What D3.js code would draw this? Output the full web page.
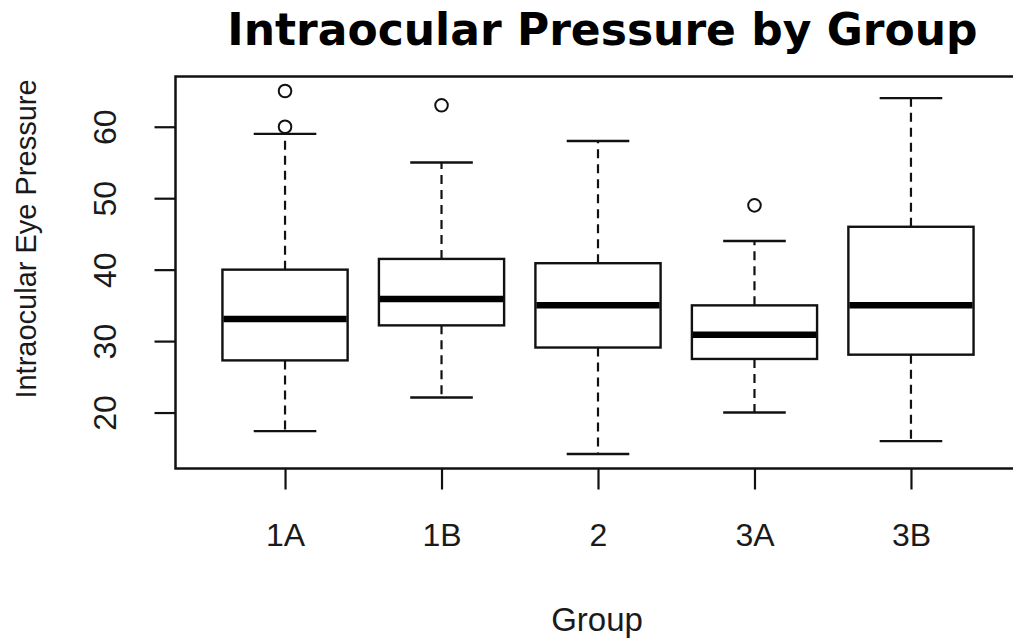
<!DOCTYPE html>
<html>
<head>
<meta charset="utf-8">
<script src="https://cdn.jsdelivr.net/npm/d3@7"></script>
<style>
  body { margin: 0; background: #fff; }
  svg { display: block; }
</style>
</head>
<body>
<div id="chart"></div>
<script>
// box plot of intraocular pressure for each group
const groups = ["1A", "1B", "2", "3A", "3B"];
const lowerWhisker = [17.4, 22.1, 14.2, 20.0, 16.0];
const q1 = [27.3, 32.2, 29.1, 27.5, 28.1];
const median = [33.1, 35.9, 35.0, 30.9, 35.0];
const q3 = [40.0, 41.5, 40.9, 35.0, 46.0];
const upperWhisker = [59.0, 55.0, 58.0, 44.0, 64.0];
const outliers = [[60, 65], [63], [], [49], []];
const yTicks = [20, 30, 40, 50, 60];

const width = 1013,
    height = 642;

const plot = { left: 175.5, right: 1020.5, top: 76.5, bottom: 468.5 };

const svg = d3.select("#chart")
    .append("svg")
    .attr("width", width)
    .attr("height", height);

// R style: 4% padding round the data range
const allVals = lowerWhisker.concat(upperWhisker, outliers.flat());
const lo = d3.min(allVals), hi = d3.max(allVals);
const pad = (hi - lo) * 0.04;

const y = d3.scaleLinear()
    .domain([lo - pad, hi + pad])
    .range([plot.bottom, plot.top]);

const x = d3.scaleLinear()
    .domain([0.3, groups.length + 0.7])
    .range([plot.left, plot.right]);

const step = x(2) - x(1);
const boxW = step * 0.8;

const stats = groups.map((g, i) => ({
    g: g,
    pos: i + 1,
    lw: lowerWhisker[i],
    q1: q1[i],
    med: median[i],
    q3: q3[i],
    uw: upperWhisker[i],
    out: outliers[i]
}));

const ink = "#111";

const boxes = svg.append("g")
    .selectAll("g")
    .data(stats)
    .join("g");

// dashed whiskers
boxes.append("line")
    .attr("x1", d => x(d.pos)).attr("x2", d => x(d.pos))
    .attr("y1", d => y(d.q3)).attr("y2", d => y(d.uw))
    .attr("stroke", ink).attr("stroke-width", 2.2)
    .attr("stroke-dasharray", "9,6");

boxes.append("line")
    .attr("x1", d => x(d.pos)).attr("x2", d => x(d.pos))
    .attr("y1", d => y(d.q1)).attr("y2", d => y(d.lw))
    .attr("stroke", ink).attr("stroke-width", 2.2)
    .attr("stroke-dasharray", "9,6");

// staples
for (const key of ["uw", "lw"]) {
    boxes.append("line")
        .attr("x1", d => x(d.pos) - boxW / 4).attr("x2", d => x(d.pos) + boxW / 4)
        .attr("y1", d => y(d[key])).attr("y2", d => y(d[key]))
        .attr("stroke", ink).attr("stroke-width", 2.4);
}

boxes.append("rect")
    .attr("x", d => x(d.pos) - boxW / 2)
    .attr("width", boxW)
    .attr("y", d => y(d.q3))
    .attr("height", d => y(d.q1) - y(d.q3))
    .attr("fill", "white")
    .attr("stroke", ink)
    .attr("stroke-width", 2.4);

boxes.append("line")
    .attr("x1", d => x(d.pos) - boxW / 2 + 1).attr("x2", d => x(d.pos) + boxW / 2 - 1)
    .attr("y1", d => y(d.med)).attr("y2", d => y(d.med))
    .attr("stroke", "#000").attr("stroke-width", 6.5);

boxes.selectAll("circle")
    .data(d => d.out.map(v => ({ pos: d.pos, v: v })))
    .join("circle")
    .attr("cx", d => x(d.pos))
    .attr("cy", d => y(d.v))
    .attr("r", 6.3)
    .attr("fill", "none")
    .attr("stroke", ink)
    .attr("stroke-width", 2);

// frame
svg.append("rect")
    .attr("x", plot.left).attr("y", plot.top)
    .attr("width", plot.right - plot.left)
    .attr("height", plot.bottom - plot.top)
    .attr("fill", "none")
    .attr("stroke", ink)
    .attr("stroke-width", 2.5);

// y axis, labels turned like R's default las=0
const yAxis = svg.append("g")
    .attr("transform", `translate(${plot.left},0)`)
    .call(d3.axisLeft(y).tickValues(yTicks).tickSize(21).tickSizeOuter(0));
yAxis.select(".domain").remove();
yAxis.selectAll("line").attr("stroke", ink).attr("stroke-width", 2.2);
yAxis.selectAll("text")
    .attr("x", null).attr("dy", null)
    .attr("text-anchor", "middle")
    .attr("transform", "translate(-60,0) rotate(-90)")
    .attr("fill", "#1a1a1a")
    .style("font-family", "'Liberation Sans', Arial, sans-serif")
    .style("font-size", "32px");

// x axis
const xAxis = svg.append("g")
    .attr("transform", `translate(0,${plot.bottom})`)
    .call(d3.axisBottom(x)
        .tickValues(stats.map(d => d.pos))
        .tickFormat(p => groups[p - 1])
        .tickSize(21).tickSizeOuter(0));
xAxis.select(".domain").remove();
xAxis.selectAll("line").attr("stroke", ink).attr("stroke-width", 2.2);
xAxis.selectAll("text")
    .attr("y", 77.5).attr("dy", null)
    .attr("fill", "#1a1a1a")
    .style("font-family", "'Liberation Sans', Arial, sans-serif")
    .style("font-size", "32px");

// titles
svg.append("text")
    .attr("x", 602.5).attr("y", 45)
    .attr("text-anchor", "middle")
    .style("font-family", "'DejaVu Sans', sans-serif")
    .style("font-weight", "bold")
    .style("font-size", "44px")
    .text("Intraocular Pressure by Group");

svg.append("text")
    .attr("x", (plot.left + plot.right) / 2 - 1).attr("y", 630.5)
    .attr("text-anchor", "middle")
    .attr("fill", "#1a1a1a")
    .style("font-family", "'Liberation Sans', Arial, sans-serif")
    .style("font-size", "33px")
    .text("Group");

svg.append("text")
    .attr("transform", "translate(36,239) rotate(-90)")
    .attr("text-anchor", "middle")
    .attr("fill", "#1a1a1a")
    .style("font-family", "'Liberation Sans', Arial, sans-serif")
    .style("font-size", "29px")
    .text("Intraocular Eye Pressure");
</script>
</body>
</html>
